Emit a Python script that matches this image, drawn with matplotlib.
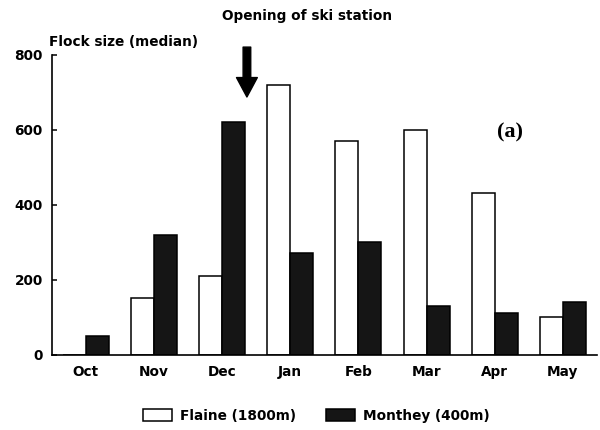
import matplotlib
matplotlib.use("Agg")
import matplotlib.pyplot as plt
import numpy as np
from matplotlib.patches import Patch

months = ["Oct", "Nov", "Dec", "Jan", "Feb", "Mar", "Apr", "May"]
flaine = [0, 150, 210, 720, 570, 600, 430, 100]
monthey = [50, 320, 620, 270, 300, 130, 110, 140]
yticks = [0, 200, 400, 600, 800]

plt.rcParams["font.family"] = "DejaVu Sans"
plt.rcParams["font.weight"] = "bold"
FS = 9.8

fig = plt.figure(figsize=(6.0, 4.3), dpi=100)
ax = fig.add_axes([0.086, 0.175, 0.909, 0.698])

x = np.arange(len(months))
w = 0.337
ax.bar(x - w / 2, flaine, width=w, color="white", edgecolor="black", linewidth=1.1)
ax.bar(x + w / 2, monthey, width=w, color="#151515", edgecolor="black", linewidth=1.1)

ax.set_xlim(-0.5, 7.5)
ax.set_ylim(0, 800)
ax.set_xticks(x)
ax.set_xticklabels(months, fontsize=FS, fontweight="bold")
ax.set_yticks(yticks)
ax.set_yticklabels([str(v) for v in yticks], fontsize=FS, fontweight="bold")
ax.tick_params(axis="x", length=0, pad=7.5)
ax.tick_params(axis="y", direction="in", length=3.6, width=1.1, pad=6.3)
for s in ["top", "right"]:
    ax.spines[s].set_visible(False)
for s in ["left", "bottom"]:
    ax.spines[s].set_linewidth(1.2)

# arrow marking opening of the ski station
ax.annotate("", xy=(2.365, 687), xytext=(2.365, 820),
            arrowprops=dict(arrowstyle="simple,head_length=14,head_width=15,tail_width=5.5",
                            mutation_scale=1, color="black", shrinkA=0, shrinkB=0),
            annotation_clip=False)

fig.text(0.512, 0.962, "Opening of ski station", ha="center", va="center",
         fontsize=FS, fontweight="bold")
fig.text(0.082, 0.902, "Flock size (median)", ha="left", va="center",
         fontsize=FS, fontweight="bold")
ax.text(0.84, 0.739, "(a)", transform=ax.transAxes, ha="center", va="center",
        fontsize=16, fontweight="bold", family="Liberation Serif")

handles = [Patch(facecolor="white", edgecolor="black", linewidth=1.1, label="Flaine (1800m)"),
           Patch(facecolor="#151515", edgecolor="black", linewidth=1.1, label="Monthey (400m)")]
fig.legend(handles=handles, loc="center", bbox_to_anchor=(0.5275, 0.033), ncol=2,
           frameon=False, handlelength=2.1, handleheight=1.0,
           handletextpad=0.6, columnspacing=2.2, prop={"weight": "bold", "size": FS})

fig.savefig("out.png", dpi=100)
